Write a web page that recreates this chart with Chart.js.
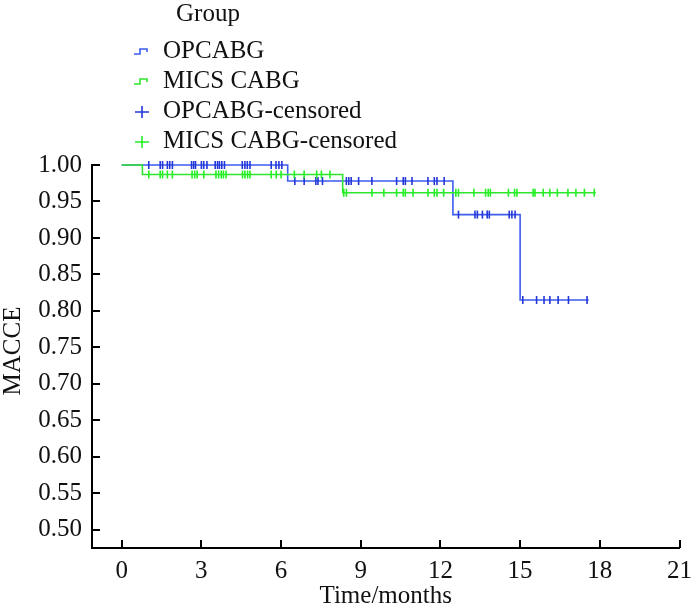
<!DOCTYPE html>
<html>
<head>
<meta charset="utf-8">
<script src="https://cdn.jsdelivr.net/npm/chart.js@4"></script>
<style>
    html, body { margin: 0; padding: 0; background: #fff; }
    #wrap { position: relative; width: 700px; height: 609px; }
    #legend { position: absolute; left: 0; top: 0; font: 25px 'Liberation Serif', 'DejaVu Serif', serif; color: #111; }
    #legend .title { position: absolute; left: 176px; top: -1px; white-space: nowrap; }
    #legend .item { position: absolute; left: 133px; white-space: nowrap; height: 28px; line-height: 28px; }
    #legend svg { vertical-align: middle; margin-right: 10px; }
</style>
</head>
<body>
<div id="wrap">
    <canvas id="chart" width="700" height="609"></canvas>
    <div id="legend"></div>
</div>
<script>
// --- data ---
const groups = ['OPCABG', 'MICS CABG']
const xTicks = [0, 3, 6, 9, 12, 15, 18, 21]
const yTicks = [0.50, 0.55, 0.60, 0.65, 0.70, 0.75, 0.80, 0.85, 0.90, 0.95, 1.00]

// step curves: time of each event and survival after it
const opcabgTimes = [0, 6.25, 12.47, 15.0, 17.58]
const opcabgSurv = [1.0, 0.978, 0.932, 0.815, 0.815]
const micsTimes = [0, 0.78, 8.32, 17.85]
const micsSurv = [1.0, 0.987, 0.962, 0.962]

// censored observations (months)
const opcabgCensor = [1.02, 1.45, 1.54, 1.72, 1.81, 1.91, 2.63, 2.71, 2.78, 3.0, 3.09, 3.21, 3.52, 3.61, 3.68, 3.77, 3.87,
    4.54, 4.64, 4.73, 4.83, 5.63, 5.81, 5.92, 6.03, 6.52, 6.87, 7.31, 7.39, 7.56, 8.46, 8.55, 8.64, 8.92, 9.42,
    10.35, 10.6, 10.68, 10.93, 11.53, 11.77, 11.87, 12.14, 12.68, 13.3, 13.39, 13.58, 13.76, 13.84, 14.59, 14.69, 14.81,
    15.1, 15.62, 15.9, 16.12, 16.43, 16.82, 17.52]
const micsCensor = [1.02, 1.45, 1.54, 1.72, 1.91, 2.65, 2.75, 2.84, 3.09, 3.55, 3.65, 3.75, 3.83, 3.93, 4.55, 4.64, 4.74, 4.83,
    5.63, 5.82, 6.0, 6.5, 6.87, 7.34, 7.52, 7.84, 8.36, 8.46, 9.42, 9.87, 10.35, 10.6, 10.68, 10.97, 11.53, 11.77, 11.87, 12.12,
    12.58, 12.68, 13.26, 13.7, 13.8, 13.88, 14.56, 14.79, 14.88, 15.49, 15.56, 15.87, 16.12, 16.4, 16.8, 17.1, 17.42, 17.79]

const COLORS = {
    blueLine: '#3d5cf0',
    blueMark: '#2336d8',
    greenLine: '#2ee62e',
    greenMark: '#22f022',
}
const FONT_FAMILY = "'Liberation Serif', 'DejaVu Serif', serif"
const FONT = { family: FONT_FAMILY, size: 25 }

function survAt(times, surv, t) {
    let s = surv[0]
    for (let i = 0; i < times.length; i++) if (times[i] <= t) s = surv[i]
    return s
}
const stepPoints = (times, surv) => times.map((t, i) => ({ x: t, y: surv[i] }))
const censorPoints = (cens, times, surv) => cens.map(t => ({ x: t, y: survAt(times, surv, t) }))

// inward tick marks + y title placed a bit above centre, like the original
const axisExtras = {
    id: 'axisExtras',
    afterDraw(chart) {
        const { ctx, chartArea, scales } = chart
        ctx.save()
        ctx.strokeStyle = '#000'
        ctx.lineWidth = 2
        ctx.beginPath()
        xTicks.forEach(v => {
            const px = Math.round(scales.x.getPixelForValue(v))
            ctx.moveTo(px, chartArea.bottom)
            ctx.lineTo(px, chartArea.bottom - 8)
        })
        yTicks.forEach(v => {
            const py = Math.round(scales.y.getPixelForValue(v))
            ctx.moveTo(chartArea.left, py)
            ctx.lineTo(chartArea.left + 8, py)
        })
        ctx.stroke()

        ctx.translate(13, scales.y.getPixelForValue(0.745))
        ctx.rotate(-Math.PI / 2)
        ctx.fillStyle = '#111'
        ctx.font = `25px ${FONT_FAMILY}`
        ctx.textAlign = 'center'
        ctx.textBaseline = 'middle'
        ctx.fillText('MACCE', 0, 0)
        ctx.restore()
    }
}

new Chart(document.getElementById('chart'), {
    type: 'scatter',
    data: {
        datasets: [
            { label: groups[0], data: stepPoints(opcabgTimes, opcabgSurv), showLine: true, stepped: true,
              borderColor: COLORS.blueLine, borderWidth: 1.6, pointRadius: 0, clip: false, order: 4 },
            { label: groups[1], data: stepPoints(micsTimes, micsSurv), showLine: true, stepped: true,
              borderColor: COLORS.greenLine, borderWidth: 1.6, pointRadius: 0, clip: false, order: 3 },
            { label: groups[0] + '-censored', data: censorPoints(opcabgCensor, opcabgTimes, opcabgSurv),
              pointStyle: 'line', rotation: 90, radius: 4, borderColor: COLORS.blueMark, borderWidth: 1.6, clip: false, order: 2 },
            { label: groups[1] + '-censored', data: censorPoints(micsCensor, micsTimes, micsSurv),
              pointStyle: 'line', rotation: 90, radius: 4, borderColor: COLORS.greenMark, borderWidth: 1.6, clip: false, order: 1 },
        ]
    },
    options: {
        responsive: false,
        animation: false,
        layout: { padding: { top: 165, right: 14, left: 0, bottom: 0 } },
        plugins: { legend: { display: false }, tooltip: { enabled: false } },
        scales: {
            x: {
                type: 'linear', min: -1.117, max: 21,
                afterBuildTicks: s => { s.ticks = xTicks.map(v => ({ value: v })) },
                afterFit: s => { s.height = 61 },
                grid: { display: false, drawTicks: false },
                border: { display: true, color: '#000', width: 2 },
                ticks: { color: '#111', font: FONT, padding: 8, maxRotation: 0, autoSkip: false },
                title: { display: true, text: 'Time/months', color: '#111', font: FONT, padding: { top: 0, bottom: -2 } },
            },
            y: {
                min: 0.475, max: 1.0,
                afterBuildTicks: s => { s.ticks = yTicks.map(v => ({ value: v })) },
                afterFit: s => { s.width = 92 },
                grid: { display: false, drawTicks: false },
                border: { display: true, color: '#000', width: 2 },
                ticks: { color: '#111', font: FONT, padding: 10, autoSkip: false, callback: v => v.toFixed(2) },
            }
        }
    },
    plugins: [axisExtras]
})

// --- legend ---
const legendEl = document.getElementById('legend')
const stepIcon = c => `<svg width="20" height="14"><path d="M1 9 H7 V4 H14 V7" stroke="${c}" stroke-width="1.6" fill="none"/></svg>`
const plusIcon = c => `<svg width="20" height="14"><path d="M2 7 H16 M9 1 V13" stroke="${c}" stroke-width="1.6" fill="none"/></svg>`
const legendItems = [
    { icon: stepIcon(COLORS.blueLine), text: groups[0] },
    { icon: stepIcon(COLORS.greenLine), text: groups[1] },
    { icon: plusIcon(COLORS.blueMark), text: groups[0] + '-censored' },
    { icon: plusIcon(COLORS.greenMark), text: groups[1] + '-censored' },
]
legendEl.innerHTML = '<div class="title">Group</div>' +
    legendItems.map((it, i) => `<div class="item" style="top:${36 + i * 30}px">${it.icon}${it.text}</div>`).join('')
</script>
</body>
</html>
